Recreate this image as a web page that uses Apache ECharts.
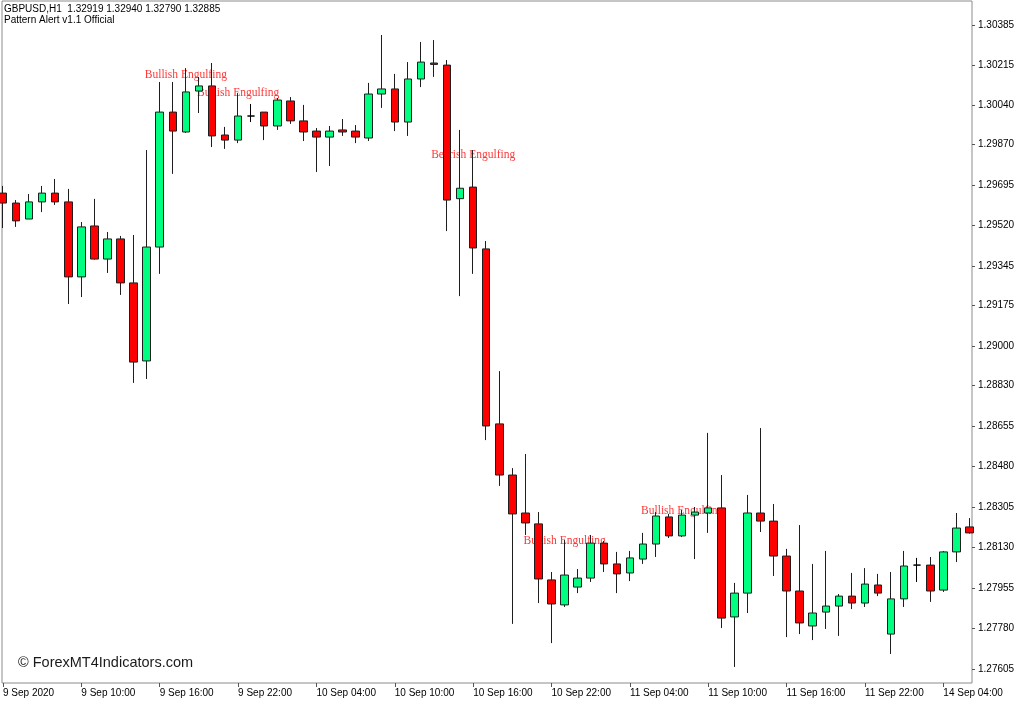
<!DOCTYPE html>
<html>
<head>
<meta charset="utf-8">
<script src="https://cdn.jsdelivr.net/npm/echarts/dist/echarts.min.js"></script>
<style>
html,body{margin:0;padding:0;background:#fff;}
#chart{width:1024px;height:704px;}
</style>
</head>
<body>
<div id="chart"></div>
<script>
// ---- data (GBPUSD H1) ----
const times = [
 "9 Sep 04:00","9 Sep 05:00","9 Sep 06:00","9 Sep 07:00","9 Sep 08:00","9 Sep 09:00","9 Sep 10:00","9 Sep 11:00","9 Sep 12:00","9 Sep 13:00",
 "9 Sep 14:00","9 Sep 15:00","9 Sep 16:00","9 Sep 17:00","9 Sep 18:00","9 Sep 19:00","9 Sep 20:00","9 Sep 21:00","9 Sep 22:00","9 Sep 23:00",
 "10 Sep 00:00","10 Sep 01:00","10 Sep 02:00","10 Sep 03:00","10 Sep 04:00","10 Sep 05:00","10 Sep 06:00","10 Sep 07:00","10 Sep 08:00","10 Sep 09:00",
 "10 Sep 10:00","10 Sep 11:00","10 Sep 12:00","10 Sep 13:00","10 Sep 14:00","10 Sep 15:00","10 Sep 16:00","10 Sep 17:00","10 Sep 18:00","10 Sep 19:00",
 "10 Sep 20:00","10 Sep 21:00","10 Sep 22:00","10 Sep 23:00","11 Sep 00:00","11 Sep 01:00","11 Sep 02:00","11 Sep 03:00","11 Sep 04:00","11 Sep 05:00",
 "11 Sep 06:00","11 Sep 07:00","11 Sep 08:00","11 Sep 09:00","11 Sep 10:00","11 Sep 11:00","11 Sep 12:00","11 Sep 13:00","11 Sep 14:00","11 Sep 15:00",
 "11 Sep 16:00","11 Sep 17:00","11 Sep 18:00","11 Sep 19:00","11 Sep 20:00","11 Sep 21:00","11 Sep 22:00","11 Sep 23:00","14 Sep 00:00","14 Sep 01:00",
 "14 Sep 02:00","14 Sep 03:00","14 Sep 04:00","14 Sep 05:00","14 Sep 06:00"
];
const opens = [
 1.29661,1.29618,1.29549,1.29623,1.29661,1.29623,1.29299,1.29519,1.29376,1.29463,
 1.29273,1.28936,1.29428,1.30011,1.29925,1.30102,1.30124,1.29912,1.29890,1.29994,
 1.30011,1.29951,1.30059,1.29973,1.29929,1.29903,1.29934,1.29929,1.29899,1.30089,
 1.30111,1.29968,1.30154,1.30223,1.30214,1.29637,1.29687,1.29420,1.28664,1.28443,
 1.28279,1.28232,1.27990,1.27882,1.27959,1.27998,1.28149,1.28059,1.28020,1.28080,
 1.28145,1.28262,1.28180,1.28270,1.28279,1.28301,1.27830,1.27933,1.28279,1.28244,
 1.28093,1.27942,1.27791,1.27851,1.27877,1.27920,1.27890,1.27968,1.27756,1.27908,
 1.28054,1.28054,1.27946,1.28111,1.28219
];
const closes = [
 1.29618,1.29541,1.29623,1.29661,1.29623,1.29299,1.29515,1.29376,1.29463,1.29273,
 1.28931,1.29428,1.30011,1.29929,1.30098,1.30124,1.29908,1.29890,1.29994,1.29994,
 1.29951,1.30063,1.29973,1.29925,1.29903,1.29929,1.29925,1.29903,1.30089,1.30111,
 1.29968,1.30154,1.30227,1.30217,1.29631,1.29682,1.29424,1.28655,1.28443,1.28275,
 1.28236,1.27994,1.27886,1.28011,1.27998,1.28149,1.28059,1.28016,1.28085,1.28145,
 1.28266,1.28180,1.28270,1.28283,1.28301,1.27825,1.27933,1.28279,1.28244,1.28093,
 1.27942,1.27804,1.27847,1.27877,1.27920,1.27890,1.27972,1.27933,1.27908,1.28050,
 1.28054,1.27942,1.28111,1.28214,1.28193
];
const lows = [
 1.29510,1.29515,1.29549,1.29579,1.29610,1.29182,1.29212,1.29374,1.29316,1.29221,
 1.28841,1.28858,1.29312,1.29744,1.29921,1.30007,1.29860,1.29852,1.29877,1.29968,
 1.29890,1.29934,1.29960,1.29886,1.29752,1.29778,1.29908,1.29877,1.29886,1.30029,
 1.29929,1.29908,1.30119,1.30163,1.29497,1.29216,1.29312,1.28594,1.28396,1.27800,
 1.28184,1.27890,1.27717,1.27873,1.27933,1.27981,1.28024,1.27933,1.27985,1.28059,
 1.28089,1.28171,1.28175,1.28080,1.28193,1.27782,1.27614,1.27847,1.28197,1.28007,
 1.27743,1.27756,1.27730,1.27778,1.27748,1.27864,1.27873,1.27920,1.27670,1.27873,
 1.27981,1.27895,1.27938,1.28067,1.28190
];
const highs = [
 1.29692,1.29631,1.29657,1.29692,1.29722,1.29679,1.29536,1.29636,1.29493,1.29476,
 1.29480,1.29847,1.30141,1.30141,1.30201,1.30163,1.30223,1.29947,1.30093,1.30046,
 1.30011,1.30072,1.30076,1.30042,1.29942,1.29951,1.29981,1.29955,1.30137,1.30344,
 1.30176,1.30227,1.30314,1.30322,1.30236,1.29934,1.29847,1.29454,1.28892,1.28473,
 1.28534,1.28283,1.28024,1.28162,1.28037,1.28184,1.28158,1.28111,1.28115,1.28193,
 1.28283,1.28275,1.28292,1.28305,1.28625,1.28443,1.27977,1.28357,1.28646,1.28318,
 1.28124,1.28227,1.28059,1.28115,1.27929,1.28020,1.28041,1.28016,1.28024,1.28115,
 1.28085,1.28089,1.28115,1.28279,1.28257
];
const yTicks = [1.30385,1.30215,1.30040,1.29870,1.29695,1.29520,1.29345,1.29175,1.29000,
 1.28830,1.28655,1.28480,1.28305,1.28130,1.27955,1.27780,1.27605];
const xTickIdx = [0,6,12,18,24,30,36,42,48,54,60,66,72];
const xTickText = ["9 Sep 2020","9 Sep 10:00","9 Sep 16:00","9 Sep 22:00","10 Sep 04:00","10 Sep 10:00",
 "10 Sep 16:00","10 Sep 22:00","11 Sep 04:00","11 Sep 10:00","11 Sep 16:00","11 Sep 22:00","14 Sep 04:00"];
const patternIdx = [14,18,36,43,52];
const patternPrice = [1.30171,1.30092,1.29824,1.28157,1.28286];
const patternText = ["Bullish Engulfing","Bullish Engulfing","Bearish Engulfing","Bullish Engulfing","Bullish Engulfing"];
const headerLine1 = "GBPUSD,H1  1.32919 1.32940 1.32790 1.32885";
const headerLine2 = "Pattern Alert v1.1 Official";
const watermark = "\u00A9 ForexMT4Indicators.com";

// ---- build ----
const candleData = times.map((t, i) => [i, opens[i], closes[i], lows[i], highs[i]]);
const textData = patternIdx.map((i, k) => ({ value: [i, patternPrice[k]], name: patternText[k] }));

const chart = echarts.init(document.getElementById('chart'), null, { renderer: 'canvas' });
chart.setOption({
  animation: false,
  backgroundColor: '#ffffff',
  grid: { left: 2, right: 52, top: 1, bottom: 21, show: true, borderColor: '#8c8c8c', borderWidth: 1, backgroundColor: 'transparent' },
  xAxis: {
    type: 'value', min: -0.0766, max: 74.196, position: 'bottom',
    axisLine: { show: false, onZero: false },
    splitLine: { show: false },
    axisTick: { show: true, customValues: xTickIdx, length: 4, lineStyle: { color: '#555' } },
    axisLabel: {
      customValues: xTickIdx, align: 'left', margin: 5,
      fontFamily: 'Liberation Sans', fontSize: 10, color: '#000',
      formatter: v => { const k = xTickIdx.indexOf(Math.round(v)); return k >= 0 ? xTickText[k] : ''; }
    }
  },
  yAxis: {
    type: 'value', position: 'right', min: 1.275446, max: 1.304909,
    axisLine: { show: false, onZero: false },
    splitLine: { show: false },
    axisTick: { show: true, customValues: yTicks, length: 3, lineStyle: { color: '#555' } },
    axisLabel: {
      customValues: yTicks, margin: 6,
      fontFamily: 'Liberation Sans', fontSize: 10, color: '#000',
      formatter: v => v.toFixed(5)
    }
  },
  series: [
    {
      type: 'scatter', z: 1, symbol: 'circle', symbolSize: 1,
      itemStyle: { color: 'rgba(0,0,0,0)' },
      data: textData,
      label: {
        show: true, position: 'inside', formatter: p => p.name,
        fontFamily: 'Liberation Serif', fontSize: 11.5, color: '#ff0000'
      },
      silent: true
    },
    {
      type: 'candlestick', z: 3, barWidth: 8, clip: true,
      data: candleData,
      itemStyle: {
        color: '#00ff80', color0: '#ff0000',
        borderColor: '#1e1e1e', borderColor0: '#1e1e1e', borderColorDoji: '#000',
        borderWidth: 1
      }
    }
  ],
  graphic: [
    { type: 'text', left: 4, top: 4, style: { text: headerLine1, font: '10px "Liberation Sans"', fill: '#000' } },
    { type: 'text', left: 4, top: 15, style: { text: headerLine2, font: '10px "Liberation Sans"', fill: '#000' } },
    { type: 'text', left: 18, top: 655, style: { text: watermark, font: '14.5px "Liberation Sans"', fill: '#1a1a1a' } }
  ]
});
</script>
</body>
</html>
